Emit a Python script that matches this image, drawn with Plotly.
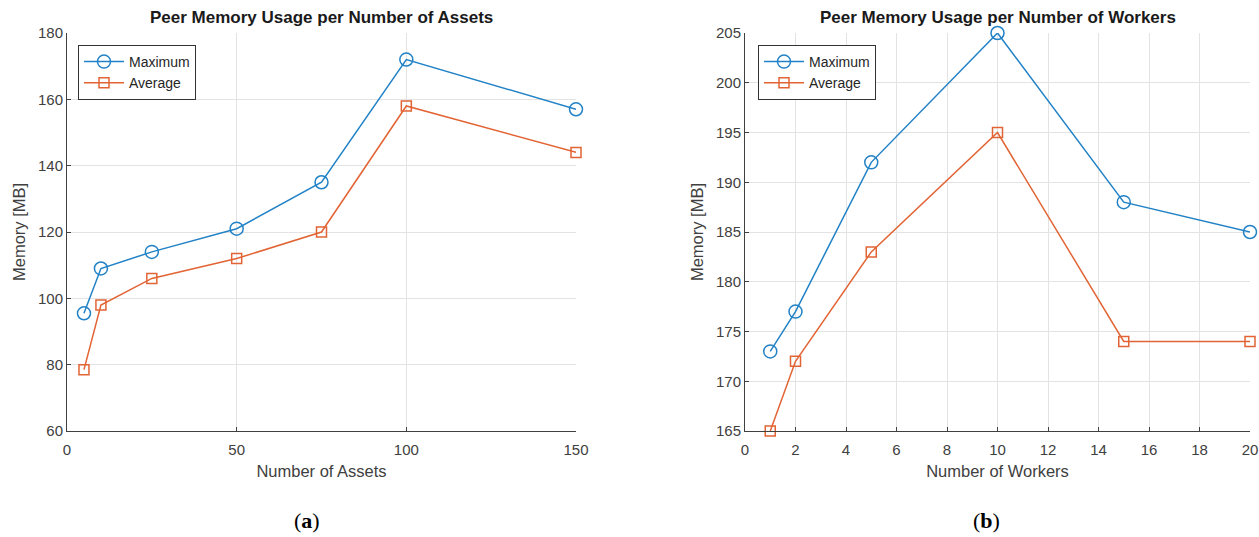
import plotly.graph_objects as go

# Panel (a): memory vs number of assets
assets = [5, 10, 25, 50, 75, 100, 150]
assets_max = [95.5, 109, 114, 121, 135, 172, 157]
assets_avg = [78.5, 98, 106, 112, 120, 158, 144]

# Panel (b): memory vs number of workers
workers = [1, 2, 5, 10, 15, 20]
workers_max = [173, 177, 192, 205, 188, 185]
workers_avg = [165, 172, 183, 195, 174, 174]

BLUE = "#2282c6"
ORANGE = "#e26434"
AXIS = "#404040"
GRID = "#e3e3e3"
FONT = "Liberation Sans, Arial, sans-serif"

W, H = 1259, 537


def px_x(p):
    return p / W


def px_y(p):
    return 1 - p / H


fig = go.Figure()

def add_series(x, y, name, color, symbol, xa, ya, legend):
    fig.add_trace(go.Scatter(
        x=x, y=y, name=name, mode="lines+markers",
        line=dict(color=color, width=1.5),
        marker=dict(symbol=symbol, size=13 if symbol == "circle-open" else 10,
                    color=color, line=dict(color=color, width=1.5)),
        xaxis=xa, yaxis=ya, legend=legend, cliponaxis=False,
    ))

add_series(assets, assets_max, "Maximum", BLUE, "circle-open", "x", "y", "legend")
add_series(assets, assets_avg, "Average", ORANGE, "square-open", "x", "y", "legend")
add_series(workers, workers_max, "Maximum", BLUE, "circle-open", "x2", "y2", "legend2")
add_series(workers, workers_avg, "Average", ORANGE, "square-open", "x2", "y2", "legend2")

common_axis = dict(
    showline=True, linecolor=AXIS, linewidth=1, mirror=False,
    ticks="inside", ticklen=4, tickcolor=AXIS,
    showgrid=True, gridcolor=GRID, gridwidth=1, zeroline=False,
    automargin=False,
    tickfont=dict(family=FONT, size=15, color=AXIS),
    title_font=dict(family=FONT, size=16.5, color=AXIS),
)

x_axis_extra = dict(ticklabelstandoff=5)

y_top, y_bot = px_y(33), px_y(431)

legend_style = dict(
    xanchor="left", yanchor="top",
    bgcolor="white", bordercolor="#333333", borderwidth=1,
    font=dict(family=FONT, size=14, color="#262626"),
    itemwidth=40, tracegroupgap=0,
)

fig.update_layout(
    width=W, height=H,
    margin=dict(l=0, r=0, t=0, b=0),
    paper_bgcolor="white", plot_bgcolor="white",
    showlegend=True,
    xaxis=dict(domain=[px_x(67), px_x(576)], range=[0, 150], dtick=50,
               anchor="y", title=dict(text="Number of Assets", standoff=8),
               **x_axis_extra, **common_axis),
    yaxis=dict(domain=[y_bot, y_top], range=[60, 180], dtick=20,
               anchor="x", title=dict(text="Memory [MB]", standoff=8), **common_axis),
    xaxis2=dict(domain=[px_x(745), px_x(1250)], range=[0, 20], dtick=2,
                anchor="y2", title=dict(text="Number of Workers", standoff=8),
                **x_axis_extra, **common_axis),
    yaxis2=dict(domain=[y_bot, y_top], range=[165, 205], dtick=5,
                anchor="x2", title=dict(text="Memory [MB]", standoff=8), **common_axis),
    legend=dict(x=px_x(78), y=px_y(45), **legend_style),
    legend2=dict(x=px_x(758), y=px_y(45), **legend_style),
)

title_font = dict(family=FONT, size=17, color="#1a1a1a")
caption_font = dict(family="Liberation Serif, serif", size=22, color="black")
annotations = [
    dict(text="<b>Peer Memory Usage per Number of Assets</b>",
         x=(px_x(67) + px_x(576)) / 2, y=px_y(18), xanchor="center", yanchor="middle",
         xref="paper", yref="paper", showarrow=False, font=title_font),
    dict(text="<b>Peer Memory Usage per Number of Workers</b>",
         x=(px_x(745) + px_x(1250)) / 2, y=px_y(18), xanchor="center", yanchor="middle",
         xref="paper", yref="paper", showarrow=False, font=title_font),
    dict(text="(<b>a</b>)", x=px_x(307), y=px_y(520), xanchor="center", yanchor="middle",
         xref="paper", yref="paper", showarrow=False, font=caption_font),
    dict(text="(<b>b</b>)", x=px_x(986), y=px_y(520), xanchor="center", yanchor="middle",
         xref="paper", yref="paper", showarrow=False, font=caption_font),
]
fig.update_layout(annotations=annotations)

fig.write_html("out.html")
